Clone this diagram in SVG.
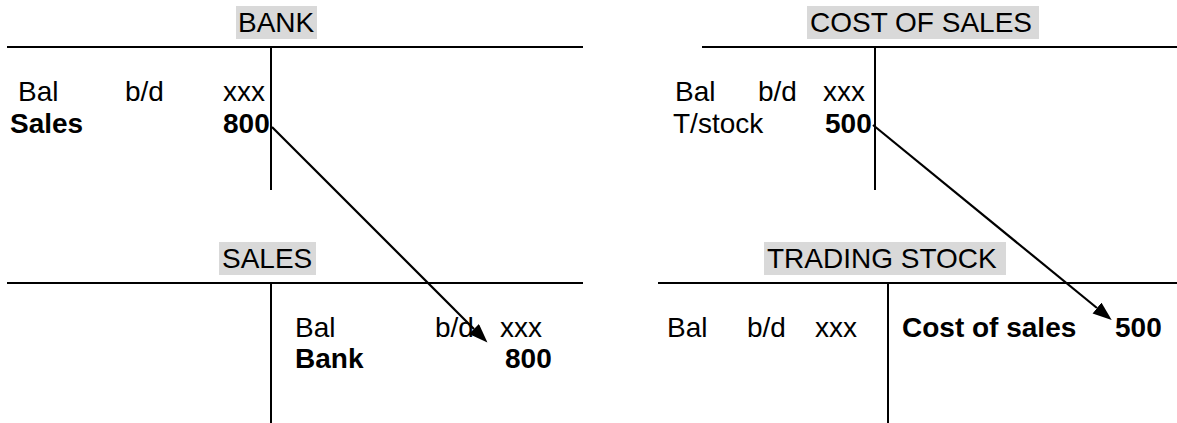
<svg xmlns="http://www.w3.org/2000/svg" width="1177" height="423" viewBox="0 0 1177 423">
  <style>
    text { font-family: "Liberation Sans", Arial, sans-serif; font-size: 28px; fill: #000; }
    .b { font-weight: bold; }
    .hl { fill: #d9d9d9; }
    .rule { stroke: #000; stroke-width: 2; fill: none; }
    .flow { stroke: #000; stroke-width: 2.2; fill: none; }
  </style>
  <defs>
    <marker id="head" markerUnits="userSpaceOnUse" markerWidth="22" markerHeight="16" refX="0" refY="7" orient="auto">
      <path d="M0,0 L19,7 L0,14 z" fill="#000"/>
    </marker>
  </defs>

  <rect width="1177" height="423" fill="#fff"/>

  <!-- Bank account -->
  <g id="bank">
    <rect class="hl" x="236" y="6" width="81" height="33"/>
    <text x="238" y="32">BANK</text>
    <line class="rule" x1="7" y1="47" x2="583" y2="47"/>
    <line class="rule" x1="271" y1="47" x2="271" y2="190"/>
    <text x="18" y="101">Bal</text>
    <text x="125" y="101">b/d</text>
    <text x="223" y="101">xxx</text>
    <text class="b" x="10" y="133">Sales</text>
    <text class="b" x="223" y="133">800</text>
  </g>

  <!-- Cost of sales account -->
  <g id="cost-of-sales">
    <rect class="hl" x="807" y="6" width="232" height="33"/>
    <text x="810" y="32">COST OF SALES</text>
    <line class="rule" x1="702" y1="47" x2="1177" y2="47"/>
    <line class="rule" x1="875" y1="47" x2="875" y2="190"/>
    <text x="675" y="101">Bal</text>
    <text x="758" y="101">b/d</text>
    <text x="823" y="101">xxx</text>
    <text x="673" y="133">T/stock</text>
    <text class="b" x="825" y="133">500</text>
  </g>

  <!-- Sales account -->
  <g id="sales">
    <rect class="hl" x="219" y="242" width="97" height="33"/>
    <text x="222" y="268">SALES</text>
    <line class="rule" x1="7" y1="283" x2="583" y2="283"/>
    <line class="rule" x1="271" y1="283" x2="271" y2="423"/>
    <text x="295" y="337">Bal</text>
    <text x="435" y="337">b/d</text>
    <text x="500" y="337">xxx</text>
    <text class="b" x="295" y="368">Bank</text>
    <text class="b" x="505" y="368">800</text>
  </g>

  <!-- Trading stock account -->
  <g id="trading-stock">
    <rect class="hl" x="764" y="242" width="242" height="33"/>
    <text x="767" y="268">TRADING STOCK</text>
    <line class="rule" x1="658" y1="283" x2="1177" y2="283"/>
    <line class="rule" x1="888" y1="283" x2="888" y2="423"/>
    <text x="667" y="337">Bal</text>
    <text x="747" y="337">b/d</text>
    <text x="815" y="337">xxx</text>
    <text class="b" x="902" y="337">Cost of sales</text>
    <text class="b" x="1115" y="337">500</text>
  </g>

  <!-- Double-entry links -->
  <g id="connectors">
    <line class="flow" x1="272" y1="127" x2="474" y2="329" marker-end="url(#head)"/>
    <line class="flow" x1="873" y1="125" x2="1097" y2="308" marker-end="url(#head)"/>
  </g>
</svg>
